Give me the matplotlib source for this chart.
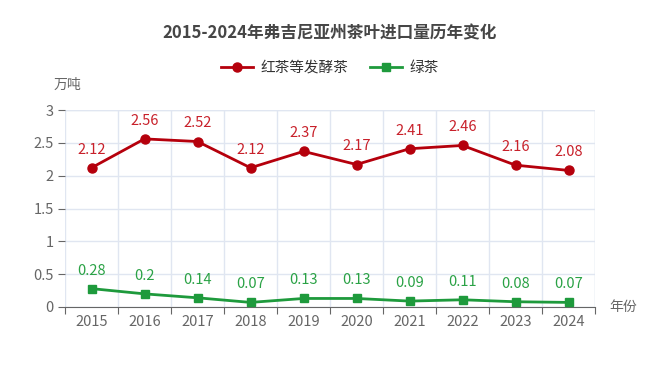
import matplotlib.pyplot as plt
import numpy as np

plt.rcParams['font.family'] = ['Noto Sans CJK SC', 'DejaVu Sans']

years = ['2015', '2016', '2017', '2018', '2019', '2020', '2021', '2022', '2023', '2024']
black_tea = [2.12, 2.56, 2.52, 2.12, 2.37, 2.17, 2.41, 2.46, 2.16, 2.08]
green_tea = [0.28, 0.2, 0.14, 0.07, 0.13, 0.13, 0.09, 0.11, 0.08, 0.07]

red = '#b5000c'
green = '#1e9a3c'
red_lbl = '#c8202a'
green_lbl = '#2aa245'
grey = '#666666'

fig = plt.figure(figsize=(6.6, 3.85), dpi=100)
ax = fig.add_axes([65 / 660, 1 - 307 / 385, 530 / 660, 197 / 385])

x = np.arange(len(years)) + 0.5
ax.plot(x, black_tea, color=red, lw=2, marker='o', ms=6.5, label='红茶等发酵茶', zorder=3)
ax.plot(x, green_tea, color=green, lw=2, marker='s', ms=6, label='绿茶', zorder=3)

for xi, v in zip(x, black_tea):
    ax.annotate(f'{v:g}', (xi, v), xytext=(0, 8), textcoords='offset points',
                ha='center', va='bottom', color=red_lbl, fontsize=10.5)
for xi, v in zip(x, green_tea):
    ax.annotate(f'{v:g}', (xi, v), xytext=(0, 8), textcoords='offset points',
                ha='center', va='bottom', color=green_lbl, fontsize=10.5)

ax.set_xlim(0, len(years))
ax.set_ylim(0, 3)
ax.set_xticks(np.arange(len(years) + 1))
ax.set_xticklabels([])
ax.set_xticks(x, minor=True)
ax.set_xticklabels(years, minor=True)
ax.tick_params(axis='x', which='minor', length=0, pad=6, labelsize=10.5, labelcolor=grey)
ax.tick_params(axis='x', which='major', length=5, color=grey)
ax.set_yticks([0, 0.5, 1, 1.5, 2, 2.5, 3])
ax.set_yticklabels(['0', '0.5', '1', '1.5', '2', '2.5', '3'])
ax.tick_params(axis='y', length=5, color=grey, labelsize=10.5, labelcolor=grey, pad=3)

ax.grid(True, which='major', color='#e0e6f1', lw=1)
ax.set_axisbelow(True)
for s in ['top', 'right']:
    ax.spines[s].set_visible(False)
ax.spines['left'].set_visible(False)
ax.spines['bottom'].set_color(grey)
ax.axhline(3, color='#e0e6f1', lw=1, zorder=0)
ax.axvline(len(years), color='#e0e6f1', lw=1, zorder=0)

fig.text(67 / 660, 1 - 85 / 385, '万吨', ha='center', va='center', color=grey, fontsize=10)
fig.text(623 / 660, 1 - 307 / 385, '年份', ha='center', va='center', color=grey, fontsize=10)

fig.text(0.5, 1 - 33 / 385, '2015-2024年弗吉尼亚州茶叶进口量历年变化', ha='center', va='center',
         fontsize=12, fontweight='bold', color='#464646')

fig.legend(loc='center', bbox_to_anchor=(0.5, 1 - 68 / 385), ncol=2, frameon=False,
           fontsize=10.5, handlelength=2.2, columnspacing=1.5, handletextpad=0.5,
           labelcolor='#333333')

fig.savefig('out.png', dpi=100)
